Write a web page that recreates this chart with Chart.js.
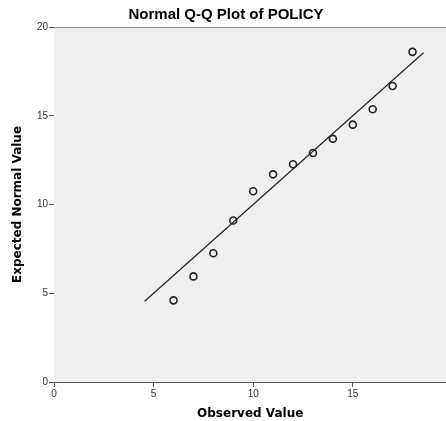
<!DOCTYPE html>
<html>
<head>
<meta charset="utf-8">
<script src="https://cdn.jsdelivr.net/npm/chart.js@4.4.1/dist/chart.umd.min.js"></script>
<style>
  html, body { margin: 0; padding: 0; background: #ffffff; overflow: hidden; }
  #wrap { width: 452px; height: 421px; }
</style>
</head>
<body>
<div id="wrap"><canvas id="qq"></canvas></div>
<script>
// data
const observed = [6, 7, 8, 9, 10, 11, 12, 13, 14, 15, 16, 17, 18];
const expected = [4.6, 5.95, 7.25, 9.1, 10.75, 11.7, 12.27, 12.9, 13.7, 14.5, 15.37, 16.68, 18.6];
const refLine = [4.55, 18.55];
const xTicks = [0, 5, 10, 15];
const yTicks = [0, 5, 10, 15, 20];

const points = observed.map((v, i) => ({ x: v, y: expected[i] }));
const linePts = refLine.map(v => ({ x: v, y: v }));

// grey plot background + top border
const plotBg = {
  id: "plotBg",
  beforeDatasetsDraw(chart) {
    const a = chart.chartArea;
    const ctx = chart.ctx;
    ctx.save();
    ctx.fillStyle = "#f0f0f0";
    ctx.fillRect(a.left, a.top, a.right - a.left, a.bottom - a.top);
    ctx.strokeStyle = "#888888";
    ctx.lineWidth = 1;
    ctx.beginPath();
    ctx.moveTo(a.left, a.top + 0.5);
    ctx.lineTo(a.right, a.top + 0.5);
    ctx.stroke();
    ctx.restore();
  }
};

const tickFont = { family: "Liberation Sans", size: 10 };
const titleFont = { family: "DejaVu Sans", size: 12, weight: "bold" };

new Chart(document.getElementById("qq"), {
  type: "scatter",
  data: {
    datasets: [
      {
        label: "line",
        type: "line",
        data: linePts,
        borderColor: "#222222",
        borderWidth: 1.2,
        pointRadius: 0,
        fill: false
      },
      {
        label: "Observed",
        data: points,
        pointRadius: 3.5,
        pointBorderWidth: 1.6,
        pointBorderColor: "#222222",
        pointBackgroundColor: "rgba(0,0,0,0)"
      }
    ]
  },
  options: {
    responsive: true,
    maintainAspectRatio: false,
    animation: false,
    layout: { padding: { top: 0, right: 0, left: 0, bottom: 0 } },
    plugins: {
      legend: { display: false },
      tooltip: { enabled: false },
      title: {
        display: true,
        text: "Normal Q-Q Plot of POLICY",
        color: "#000000",
        font: { family: "Liberation Sans", size: 15, weight: "bold" },
        padding: { top: 6, bottom: 3 }
      }
    },
    scales: {
      x: {
        type: "linear",
        min: 0,
        max: 19.7,
        afterBuildTicks: s => { s.ticks = xTicks.map(v => ({ value: v })); },
        afterFit: s => { s.height = 39; },
        grid: { drawOnChartArea: false, drawTicks: true, tickLength: 5, color: "#555555" },
        border: { display: true, color: "#555555", width: 1 },
        ticks: { color: "#333333", font: tickFont, padding: 1, maxRotation: 0 },
        title: { display: true, text: "Observed Value", color: "#000000", font: titleFont, padding: { top: 6, bottom: 0 } }
      },
      y: {
        type: "linear",
        min: 0,
        max: 20,
        afterBuildTicks: s => { s.ticks = yTicks.map(v => ({ value: v })); },
        afterFit: s => { s.width = 54; },
        grid: { drawOnChartArea: false, drawTicks: true, tickLength: 5, color: "#555555" },
        border: { display: true, color: "#555555", width: 1 },
        ticks: { color: "#333333", font: tickFont, padding: 1 },
        title: { display: true, text: "Expected Normal Value", color: "#000000", font: titleFont, padding: { top: 11, bottom: 0 } }
      }
    }
  },
  plugins: [plotBg]
});
</script>
</body>
</html>
